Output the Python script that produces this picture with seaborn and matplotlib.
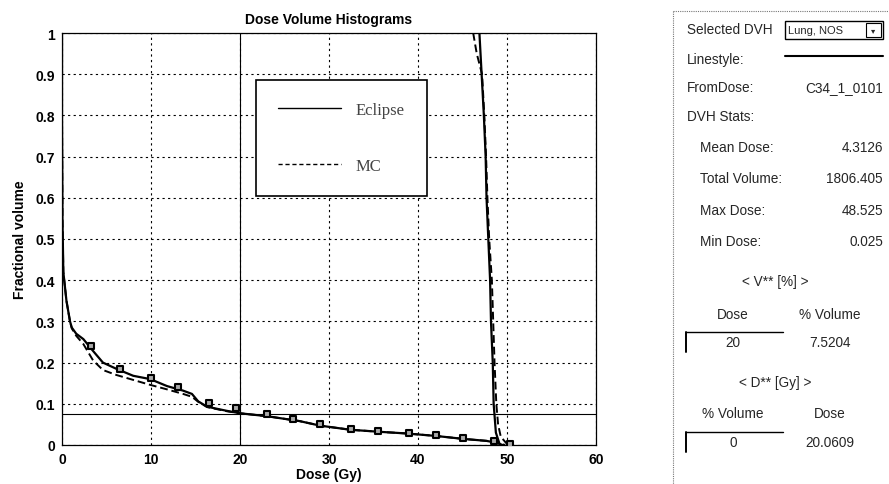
import numpy as np
import pandas as pd
import matplotlib
matplotlib.use("Agg")
import matplotlib.pyplot as plt
import seaborn as sns
from matplotlib.lines import Line2D
from matplotlib.patches import Rectangle

# ---------------- data ----------------
lung_eclipse_dose = [0, 0.0, 0.05, 0.15, 0.5, 0.9, 1.1, 1.6, 2.4, 3.5, 4.6, 6.1, 8.0, 9.9, 11.8,
                     13.6, 14.6, 15.3, 16.3, 18.5, 20.0, 23.0, 26.7, 29.0, 32.4, 35.7, 38.7,
                     42.0, 45.0, 47.7, 48.9, 49.5]
lung_eclipse_frac = [1.0, 0.80, 0.55, 0.42, 0.35, 0.30, 0.285, 0.27, 0.257, 0.228, 0.200, 0.185,
                     0.168, 0.160, 0.143, 0.132, 0.124, 0.106, 0.093, 0.083, 0.077, 0.070, 0.058,
                     0.047, 0.037, 0.032, 0.028, 0.022, 0.015, 0.010, 0.005, 0.0]

lung_mc_dose = [0, 0.0, 0.05, 0.15, 0.5, 0.9, 1.1, 1.6, 2.4, 3.5, 4.6, 6.1, 8.0, 9.9, 11.8,
                13.6, 14.6, 15.3, 16.3, 18.5, 20.0, 23.0, 26.7, 29.0, 32.4, 35.7, 38.7,
                42.0, 45.0, 47.7, 48.9, 49.8]
lung_mc_frac = [1.0, 0.80, 0.55, 0.42, 0.35, 0.30, 0.283, 0.265, 0.245, 0.205, 0.182, 0.170,
                0.158, 0.146, 0.135, 0.124, 0.117, 0.105, 0.092, 0.082, 0.077, 0.070, 0.058,
                0.047, 0.037, 0.032, 0.028, 0.022, 0.015, 0.010, 0.005, 0.0]

ptv_eclipse_dose = [46.9, 47.15, 47.4, 47.6, 47.7, 47.9, 48.1, 48.2, 48.4, 48.5, 48.75, 49.2]
ptv_eclipse_frac = [1.0, 0.9, 0.8, 0.7, 0.6, 0.5, 0.4, 0.3, 0.2, 0.1, 0.03, 0.0]

ptv_mc_dose = [46.2, 46.6, 47.2, 47.45, 47.65, 47.8, 48.0, 48.3, 48.45, 48.6, 48.8, 49.0, 49.3, 50.1]
ptv_mc_frac = [1.0, 0.95, 0.9, 0.8, 0.7, 0.6, 0.5, 0.4, 0.3, 0.2, 0.1, 0.05, 0.02, 0.0]

marker_dose = [3.3, 6.5, 10.0, 13.0, 16.5, 19.5, 23.0, 26.0, 29.0, 32.5, 35.5, 39.0, 42.0, 45.0, 48.5, 50.3]
marker_frac = [0.240, 0.185, 0.163, 0.140, 0.102, 0.090, 0.075, 0.062, 0.050, 0.040, 0.035, 0.030,
               0.025, 0.016, 0.010, 0.003]

x_ticks = [0, 10, 20, 30, 40, 50, 60]
y_ticks = [0, 0.1, 0.2, 0.3, 0.4, 0.5, 0.6, 0.7, 0.8, 0.9, 1.0]
y_tick_labels = ["0", "0.1", "0.2", "0.3", "0.4", "0.5", "0.6", "0.7", "0.8", "0.9", "1"]

legend_labels = ["Eclipse", "MC"]

# panel values
selected_dvh = "Lung, NOS"
from_dose = "C34_1_0101"
stat_names = ["Mean Dose:", "Total Volume:", "Max Dose:", "Min Dose:"]
stat_values = ["4.3126", "1806.405", "48.525", "0.025"]
v_dose = 20
v_volume = 7.5204
d_volume = 0
d_dose = 20.0609

# ---------------- plotting ----------------
sns.set_theme(style="white")
plt.rcParams['font.family'] = ['Liberation Sans', 'DejaVu Sans']

W, H = 889, 485
fig = plt.figure(figsize=(W / 100, H / 100), dpi=100)
ax = fig.add_axes([62 / W, 1 - 446 / H, 534 / W, 412 / H])


def frame(d, f):
    return pd.DataFrame({"dose": d, "frac": f})


ax.grid(True, color="black", linestyle=(0, (2, 3)), linewidth=0.8)
ax.set_axisbelow(True)

sns.lineplot(data=frame(lung_eclipse_dose, lung_eclipse_frac), x="dose", y="frac", ax=ax,
             sort=False, estimator=None, color="black", linewidth=1.6)
sns.lineplot(data=frame(lung_mc_dose, lung_mc_frac), x="dose", y="frac", ax=ax,
             sort=False, estimator=None, color="black", linewidth=1.4, linestyle=(0, (4, 2)))
sns.lineplot(data=frame(ptv_eclipse_dose, ptv_eclipse_frac), x="dose", y="frac", ax=ax,
             sort=False, estimator=None, color="black", linewidth=1.6)
sns.lineplot(data=frame(ptv_mc_dose, ptv_mc_frac), x="dose", y="frac", ax=ax,
             sort=False, estimator=None, color="black", linewidth=1.4, linestyle=(0, (4, 2)))
sns.scatterplot(data=frame(marker_dose, marker_frac), x="dose", y="frac", ax=ax,
                marker="s", s=24, facecolor="#aaaaaa", edgecolor="black", linewidth=1.5, zorder=5)

ax.axvline(v_dose, color="black", linewidth=0.8)
ax.axhline(v_volume / 100, color="black", linewidth=0.8)

ax.set_xlim(0, 60)
ax.set_ylim(0, 1)
ax.set_xticks(x_ticks)
ax.set_yticks(y_ticks)
ax.set_yticklabels(y_tick_labels)
ax.tick_params(axis="both", direction="in", length=4, width=0.8, colors="black",
               labelsize=10, pad=5)
for lab in ax.get_xticklabels() + ax.get_yticklabels():
    lab.set_fontweight("bold")
for sp in ax.spines.values():
    sp.set_color("black")
    sp.set_linewidth(0.9)

ax.set_xlabel("Dose (Gy)", fontweight="bold", fontsize=10, labelpad=1, color="black")
ax.set_ylabel("Fractional volume", fontweight="bold", fontsize=10, labelpad=6, color="black")
ax.set_title("Dose Volume Histograms", fontweight="bold", fontsize=10, pad=7, color="black")

handles = [Line2D([], [], color="black", linewidth=1.0),
           Line2D([], [], color="black", linewidth=1.0, linestyle=(0, (3, 2)))]
leg = ax.legend(handles, legend_labels, loc="upper left", bbox_to_anchor=(0.363, 0.885),
                frameon=True, fancybox=False, edgecolor="black", framealpha=1,
                prop={"family": "Liberation Serif", "size": 12},
                handlelength=3.8, handletextpad=0.9, labelspacing=2.4, borderpad=1.3,
                borderaxespad=0)
leg.get_frame().set_linewidth(1.2)
for t in leg.get_texts():
    t.set_color("#444444")


# ---------------- right-hand panel ----------------
def fx(x):
    return x / W


def fy(y):
    return 1 - y / H


fs = 9.8
# dashed panel border
fig.add_artist(Line2D([fx(673), fx(673)], [fy(12), fy(485)], color="#777777", linewidth=0.8,
                      linestyle=(0, (1, 1))))
fig.add_artist(Line2D([fx(673), fx(889)], [fy(12), fy(12)], color="#777777", linewidth=0.8,
                      linestyle=(0, (1, 1))))

fig.text(fx(687), fy(30), "Selected DVH", fontsize=fs, va="center", ha="left")
fig.add_artist(Rectangle((fx(785), fy(40)), fx(883) - fx(785), fy(22) - fy(40),
                         fill=False, edgecolor="black", linewidth=1.0))
fig.text(fx(788), fy(31), selected_dvh, fontsize=8, va="center", ha="left")
fig.add_artist(Rectangle((fx(866), fy(38)), fx(881) - fx(866), fy(24) - fy(38),
                         fill=False, edgecolor="black", linewidth=0.8))
fig.text(fx(873.5), fy(31), "▾", fontsize=6, va="center", ha="center",
         family=["DejaVu Sans"])

fig.text(fx(687), fy(60), "Linestyle:", fontsize=fs, va="center", ha="left")
fig.add_artist(Line2D([fx(785), fx(883)], [fy(57), fy(57)], color="black", linewidth=1.5))

fig.text(fx(687), fy(88), "FromDose:", fontsize=fs, va="center", ha="left")
fig.text(fx(883), fy(88), from_dose, fontsize=fs, va="center", ha="right")

fig.text(fx(687), fy(117), "DVH Stats:", fontsize=fs, va="center", ha="left")
for i, (n, v) in enumerate(zip(stat_names, stat_values)):
    yy = 148 + i * 31.3
    fig.text(fx(700), fy(yy), n, fontsize=fs, va="center", ha="left")
    fig.text(fx(883), fy(yy), v, fontsize=fs, va="center", ha="right")

fig.text(fx(775), fy(282), "< V** [%] >", fontsize=fs, va="center", ha="center")
fig.text(fx(733), fy(315), "Dose", fontsize=fs, va="center", ha="center")
fig.text(fx(830), fy(315), "% Volume", fontsize=fs, va="center", ha="center")
fig.add_artist(Line2D([fx(686), fx(783)], [fy(333), fy(333)], color="black", linewidth=1.0))
fig.add_artist(Line2D([fx(686), fx(686)], [fy(333), fy(353)], color="black", linewidth=1.4))
fig.text(fx(733), fy(343), f"{v_dose}", fontsize=fs, va="center", ha="center")
fig.text(fx(830), fy(343), f"{v_volume}", fontsize=fs, va="center", ha="center")

fig.text(fx(775), fy(383), "< D** [Gy] >", fontsize=fs, va="center", ha="center")
fig.text(fx(733), fy(414), "% Volume", fontsize=fs, va="center", ha="center")
fig.text(fx(830), fy(414), "Dose", fontsize=fs, va="center", ha="center")
fig.add_artist(Line2D([fx(686), fx(783)], [fy(433), fy(433)], color="black", linewidth=1.0))
fig.add_artist(Line2D([fx(686), fx(686)], [fy(433), fy(453)], color="black", linewidth=1.4))
fig.text(fx(733), fy(443), f"{d_volume}", fontsize=fs, va="center", ha="center")
fig.text(fx(830), fy(443), f"{d_dose}", fontsize=fs, va="center", ha="center")

fig.savefig("out.png", dpi=100)
